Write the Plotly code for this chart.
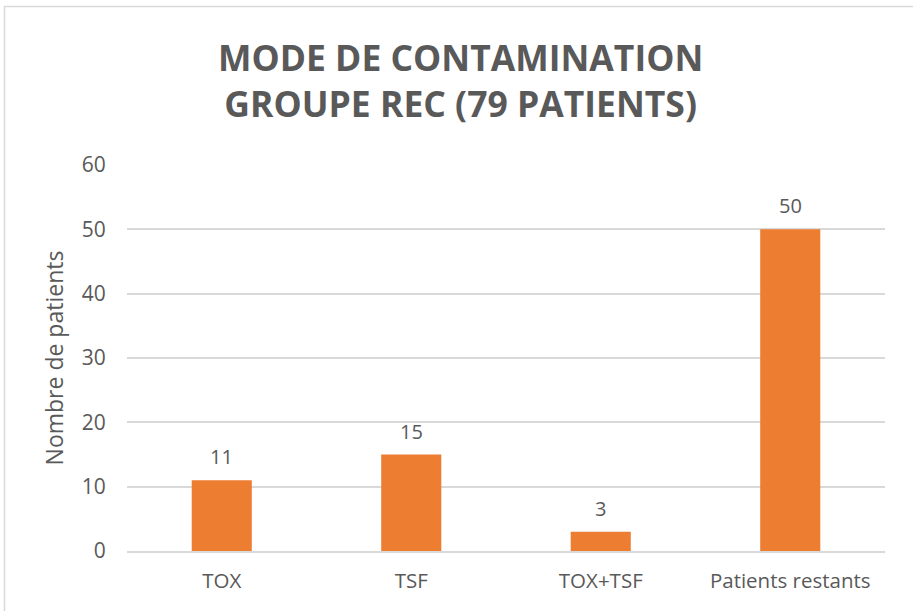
import plotly.graph_objects as go

categories = ["TOX", "TSF", "TOX+TSF", "Patients restants"]
values = [11, 15, 3, 50]
y_ticks = [0, 10, 20, 30, 40, 50, 60]

W, H = 913, 611
L, R, T, B = 127, 28, 165, 60
pw, ph = W - L - R, H - T - B

fig = go.Figure(go.Bar(
    x=categories, y=values,
    marker=dict(color="#ED7D31", line=dict(width=0)),
    hoverinfo="x+y",
))

annotations = [dict(
    text="<b>MODE DE CONTAMINATION<br>GROUPE REC (79 PATIENTS)</b>",
    xref="paper", yref="paper",
    x=(460 - L) / pw, y=1 + (165 - 80) / ph,
    xanchor="center", yanchor="middle", showarrow=False,
    font=dict(family="Open Sans", size=35.5, color="#595959"),
)]
for c, v in zip(categories, values):
    annotations.append(dict(
        x=c, y=v, xref="x", yref="y", text=str(v), showarrow=False,
        xanchor="center", yanchor="bottom", yshift=8,
        font=dict(family="Open Sans", size=20, color="#595959"),
    ))

fig.update_layout(
    width=W, height=H,
    margin=dict(l=L, r=R, t=T, b=B),
    paper_bgcolor="white", plot_bgcolor="white",
    bargap=0.683,
    showlegend=False,
    font=dict(family="Open Sans", color="#595959"),
    annotations=annotations,
    shapes=[dict(
        type="rect", xref="paper", yref="paper",
        x0=(4.5 - L) / pw, x1=(W + 20 - L) / pw,
        y0=1 - (H + 20 - T) / ph, y1=1 + (T - 6.5) / ph,
        line=dict(color="#D9D9D9", width=1.5), fillcolor="rgba(0,0,0,0)",
        layer="below",
    )],
)
fig.update_xaxes(
    showgrid=False, showline=True, linecolor="#D9D9D9", linewidth=1.5,
    ticks="outside", ticklen=11, tickcolor="rgba(0,0,0,0)",
    tickfont=dict(family="Open Sans", size=20.5, color="#595959"),
)
fig.update_yaxes(
    range=[0, 60], tickvals=y_ticks, showgrid=True, gridcolor="#D9D9D9", gridwidth=1.5,
    zeroline=False, showline=False,
    ticks="outside", ticklen=16, tickcolor="rgba(0,0,0,0)",
    tickfont=dict(family="Open Sans", size=21, color="#595959"),
    title=dict(text="Nombre de patients", font=dict(family="Open Sans", size=23, color="#595959"), standoff=11),
)

fig.write_html("out.html", config={"displayModeBar": False},
               post_script="document.body.style.margin='0';")
